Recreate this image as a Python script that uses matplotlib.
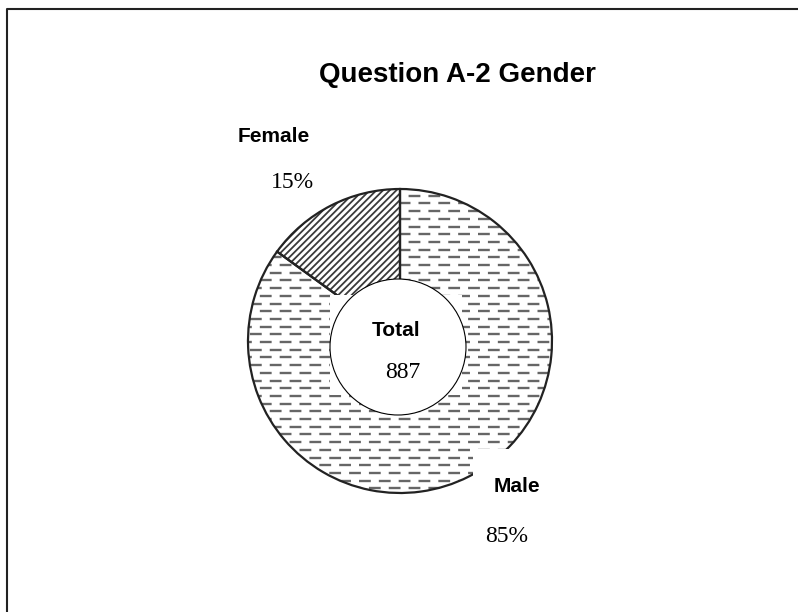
import numpy as np
import matplotlib
matplotlib.use("Agg")
from matplotlib import pyplot as plt
from matplotlib.patches import Circle, Rectangle
from matplotlib.collections import LineCollection
from matplotlib.lines import Line2D

# data
categories = ["Female", "Male"]
counts = [133, 754]
total = sum(counts)
pct_labels = ["%d%%" % round(100 * c / total) for c in counts]

W, H = 798, 612
cx, cy, R = 400, 341, 152  # pie centre / radius in pixels

plt.rcParams['hatch.linewidth'] = 1.3
sans = 'Liberation Sans'
serif = 'Liberation Serif'

fig = plt.figure(figsize=(W / 100, H / 100), dpi=100)
lim = 1.5
half = R * lim
ax = fig.add_axes([(cx - half) / W, (H - cy - half) / H, 2 * half / W, 2 * half / H])

def px(x, y):
    return (x - cx) / R, (cy - y) / R

# fills
wedges, _ = ax.pie(counts, startangle=90, counterclock=True, radius=1,
                   colors=['white', 'none'],
                   wedgeprops=dict(edgecolor='#3a3a3a', linewidth=0))
wedges[0].set_hatch('/////')
wedges[1].set_facecolor('none')
for w in wedges:
    w.set_zorder(1)

# dashed horizontal texture for the male slice
gap = 7.7 / R
rows = np.arange(-1.02, 1.02, gap)
for i, off in enumerate([0.0, 4.2]):
    segs = [[(-1.05, y), (1.05, y)] for y in rows[i::2]]
    lc = LineCollection(segs, colors='#666666', linewidths=1.7,
                        linestyles=[(off, (5.0, 3.4))], capstyle='butt', zorder=0.5)
    lc.set_clip_path(wedges[1])
    ax.add_collection(lc)

# outlines
outl, _ = ax.pie(counts, startangle=90, counterclock=True, radius=1,
                 wedgeprops=dict(facecolor='none', edgecolor='#222222', linewidth=1.6))
for w in outl:
    w.set_zorder(1.2)

ax.set_xlim(-lim, lim)
ax.set_ylim(-lim, lim)
ax.set_aspect('equal')
ax.axis('off')

# hole
r_in = 68 / R
hole_c = px(398, 347)
ax.add_patch(Circle(hole_c, r_in, facecolor='white', edgecolor='none', zorder=2))

# label backgrounds
x0, y0 = px(330, 295)
x1, y1 = px(462, 395)
ax.add_patch(Rectangle((x0, y1), x1 - x0, y0 - y1, facecolor='white', edgecolor='none', zorder=2.5))
x0, y0 = px(473, 449)
x1, y1 = px(565, 560)
ax.add_patch(Rectangle((x0, y1), x1 - x0, y0 - y1, facecolor='white', edgecolor='none', zorder=2.5))

ax.add_patch(Circle(hole_c, r_in, facecolor='none', edgecolor='black', linewidth=0.8, zorder=4))

# texts
ax.text(*px(274, 136), categories[0], fontsize=15, fontweight='bold', family=sans,
        ha='center', va='center', zorder=5)
ax.text(*px(292, 182), pct_labels[0], fontsize=17, family=serif,
        ha='center', va='center', zorder=5)
ax.text(*px(517, 486), categories[1], fontsize=15, fontweight='bold', family=sans,
        ha='center', va='center', zorder=5)
ax.text(*px(507, 536), pct_labels[1], fontsize=17, family=serif,
        ha='center', va='center', zorder=5)
ax.text(*px(396, 331), "Total", fontsize=15, fontweight='bold', family=sans,
        ha='center', va='center', zorder=5)
ax.text(*px(403, 372), str(total), fontsize=17, family=serif,
        ha='center', va='center', zorder=5)

fig.text(457 / W, 1 - 75 / H, "Question A-2 Gender", fontsize=20, fontweight='bold',
         family=sans, ha='center', va='center')

# outer frame (top and left visible)
fig.add_artist(Line2D([7 / W, 7 / W, 1.0], [0.0, 1 - 9 / H, 1 - 9 / H],
                      color='#222222', linewidth=1.5))

fig.savefig("out.png", dpi=100)
